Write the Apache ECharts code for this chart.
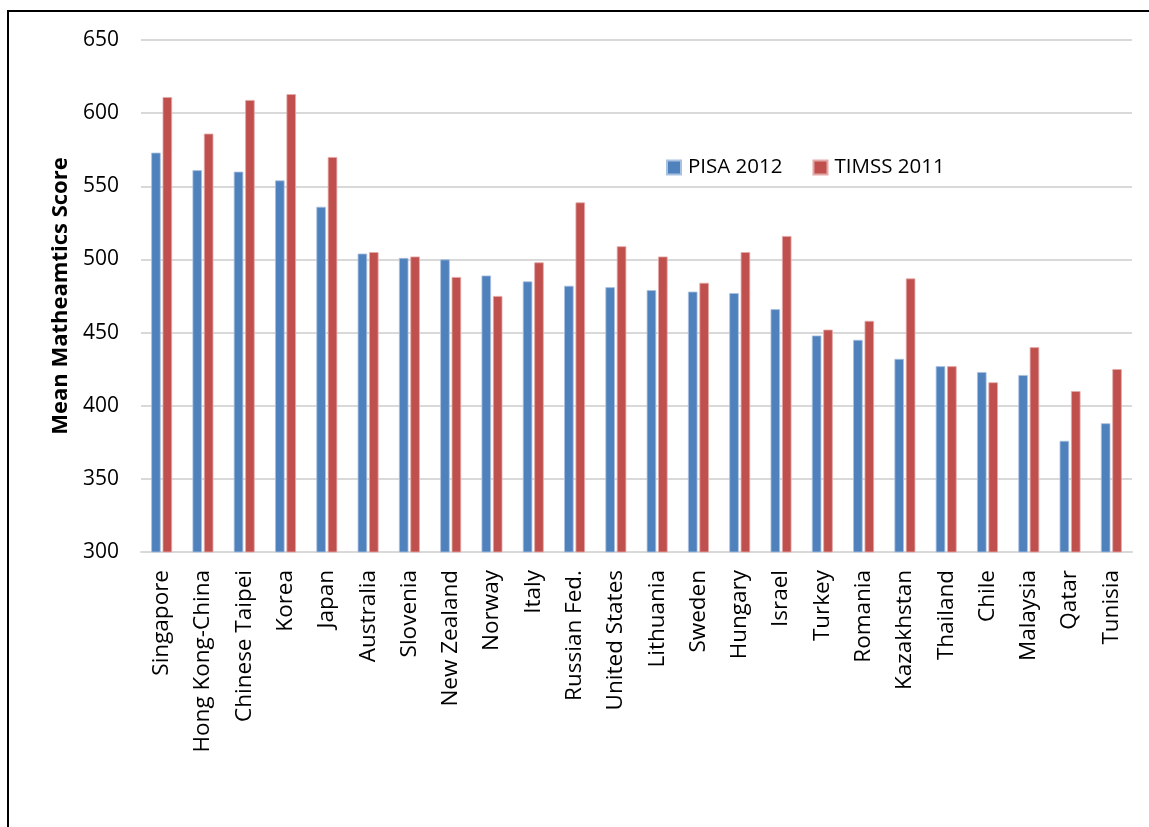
<!DOCTYPE html>
<html>
<head>
<meta charset="utf-8">
<script src="https://cdn.jsdelivr.net/npm/echarts@6/dist/echarts.min.js"></script>
<style>
  html, body { margin: 0; padding: 0; background: #fff; }
  #frame { position: absolute; left: 7px; top: 10px; width: 1200px; height: 900px;
           border-left: 2px solid #000; border-top: 2px solid #000; }
  #chart { position: absolute; left: 0; top: 0; width: 1149px; height: 827px; }
</style>
</head>
<body>
<div id="frame"></div>
<div id="chart"></div>
<script>
const countries = ["Singapore", "Hong Kong-China", "Chinese Taipei", "Korea", "Japan", "Australia",
  "Slovenia", "New Zealand", "Norway", "Italy", "Russian Fed.", "United States", "Lithuania",
  "Sweden", "Hungary", "Israel", "Turkey", "Romania", "Kazakhstan", "Thailand", "Chile",
  "Malaysia", "Qatar", "Tunisia"];
const pisa2012 = [573, 561, 560, 554, 536, 504, 501, 500, 489, 485, 482, 481, 479, 478, 477, 466,
  448, 445, 432, 427, 423, 421, 376, 388];
const timss2011 = [611, 586, 609, 613, 570, 505, 502, 488, 475, 498, 539, 509, 502, 484, 505, 516,
  452, 458, 487, 427, 416, 440, 410, 425];
const yTicks = [300, 350, 400, 450, 500, 550, 600, 650];

const chart = echarts.init(document.getElementById('chart'));
const font = '"Open Sans", "Noto Sans", sans-serif';
chart.setOption({
  animation: false,
  textStyle: { fontFamily: font },
  grid: { left: 141, right: 17, top: 40, bottom: 275 },
  legend: {
    left: 661, top: 152,
    itemWidth: 14, itemHeight: 14, itemGap: 30,
    icon: 'rect',
    textStyle: { fontSize: 20.5, color: '#000', fontFamily: font, padding: [0, 0, 0, 2] },
    data: ['PISA 2012', 'TIMSS 2011']
  },
  xAxis: {
    type: 'category',
    data: countries,
    axisLine: { lineStyle: { color: '#D9D9D9', width: 2 } },
    axisTick: { show: false },
    axisLabel: { rotate: 90, fontSize: 22.5, color: '#000', margin: 18, fontFamily: font, interval: 0 }
  },
  yAxis: {
    type: 'value',
    min: yTicks[0], max: yTicks[yTicks.length - 1], interval: 50,
    name: 'Mean Matheamtics Score',
    nameLocation: 'middle',
    nameGap: 69,
    nameTextStyle: { fontSize: 22, fontWeight: 'bold', color: '#000', fontFamily: font },
    axisLine: { show: false },
    axisTick: { show: false },
    axisLabel: { fontSize: 21, color: '#000', margin: 22, fontFamily: font },
    splitLine: { lineStyle: { color: '#D9D9D9', width: 2 } }
  },
  series: [
    {
      name: 'PISA 2012', type: 'bar', data: pisa2012,
      barWidth: 9.5, barGap: '20%',
      itemStyle: { color: '#4F81BD', borderColor: '#A9C1E0', borderWidth: 0.8 }
    },
    {
      name: 'TIMSS 2011', type: 'bar', data: timss2011,
      barWidth: 9.5, barGap: '20%',
      itemStyle: { color: '#C0504D', borderColor: '#E3A9A8', borderWidth: 0.8 }
    }
  ]
});
</script>
</body>
</html>
